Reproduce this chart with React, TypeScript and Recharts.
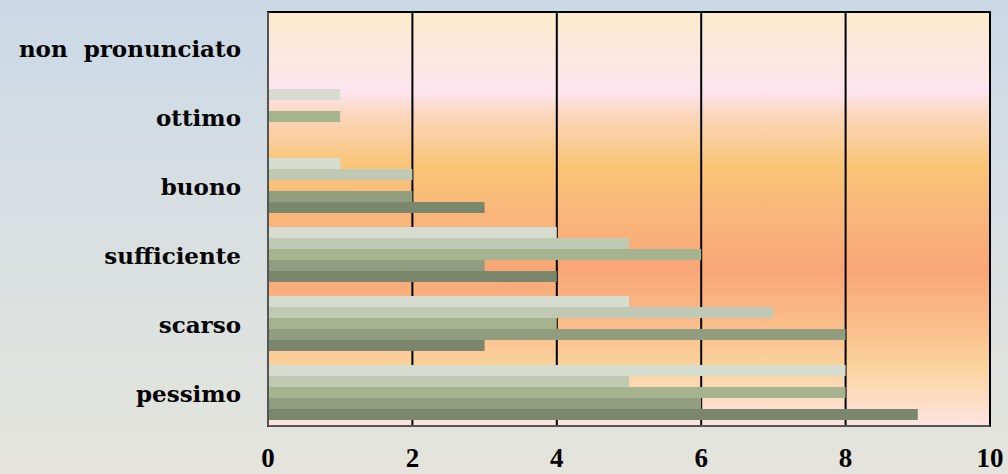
import { Bar, BarChart, CartesianGrid, ReferenceArea, XAxis, YAxis } from "recharts";

// giudizi, dall'alto verso il basso
const categories = ["non  pronunciato", "ottimo", "buono", "sufficiente", "scarso", "pessimo"];

// numero di risposte per ciascuna serie
const serie1 = [0, 1, 1, 4, 5, 8];
const serie2 = [0, 0, 2, 5, 7, 5];
const serie3 = [0, 1, 0, 6, 4, 8];
const serie4 = [0, 0, 2, 3, 8, 6];
const serie5 = [0, 0, 3, 4, 3, 9];

const xTicks = [0, 2, 4, 6, 8, 10];

const seriesColors = ["#D6DCD0", "#C0C9B3", "#A5B38F", "#919D7E", "#7B876C"];

const data = categories.map((name, i) => ({
  name,
  s1: serie1[i],
  s2: serie2[i],
  s3: serie3[i],
  s4: serie4[i],
  s5: serie5[i],
}));

const tickFont = {
  fontFamily: "'Liberation Serif', serif",
  fontWeight: 700,
  fontSize: 27,
  fill: "#000",
};

// etichette delle categorie: conserva il doppio spazio
function CategoryTick(props: any) {
  const { x, y, payload } = props;
  return (
    <text
      x={x}
      y={y}
      dy="0.45em"
      textAnchor="end"
      fontFamily="'DejaVu Serif', serif"
      fontWeight={700}
      fontSize={23}
      fill="#000"
      style={{ whiteSpace: "pre" }}
    >
      {payload.value}
    </text>
  );
}

export default function App() {
  return (
    <div
      style={{
        position: "absolute",
        left: 0,
        top: 0,
        width: 1008,
        height: 474,
        background: "linear-gradient(to bottom, #CAD8E6 0%, #D8DFE2 45%, #E4E4DC 100%)",
      }}
    >
      <BarChart
        width={1008}
        height={474}
        data={data}
        layout="vertical"
        margin={{ top: 12, right: 18, bottom: 0, left: 0 }}
        barCategoryGap={8}
        barGap={0}
      >
        <defs>
          <linearGradient id="plotBg" x1="0" y1="0" x2="0" y2="1">
            <stop offset="0" stopColor="#FCEBCC" />
            <stop offset="0.19" stopColor="#FDE5F0" />
            <stop offset="0.25" stopColor="#FCD6BC" />
            <stop offset="0.37" stopColor="#FAC577" />
            <stop offset="0.49" stopColor="#F9B67A" />
            <stop offset="0.62" stopColor="#F9A677" />
            <stop offset="0.74" stopColor="#FABA88" />
            <stop offset="0.86" stopColor="#FBD49E" />
            <stop offset="1" stopColor="#FDE4E2" />
          </linearGradient>
        </defs>
        <CartesianGrid horizontal={false} stroke="#000" strokeWidth={2} fill="url(#plotBg)" fillOpacity={1} />
        <XAxis
          type="number"
          domain={[0, 10]}
          ticks={xTicks}
          height={48}
          tickSize={0}
          tickMargin={22}
          tick={tickFont}
          axisLine={{ stroke: "#555", strokeWidth: 2 }}
        />
        <YAxis
          type="category"
          dataKey="name"
          width={268}
          tickSize={0}
          tickMargin={27}
          tick={<CategoryTick />}
          interval={0}
          axisLine={{ stroke: "#555", strokeWidth: 2 }}
        />
        <ReferenceArea x1={0} x2={10} fill="none" fillOpacity={0} stroke="#000" strokeWidth={2} />
        {["s1", "s2", "s3", "s4", "s5"].map((key, i) => (
          <Bar key={key} dataKey={key} fill={seriesColors[i]} isAnimationActive={false} />
        ))}
      </BarChart>
    </div>
  );
}
